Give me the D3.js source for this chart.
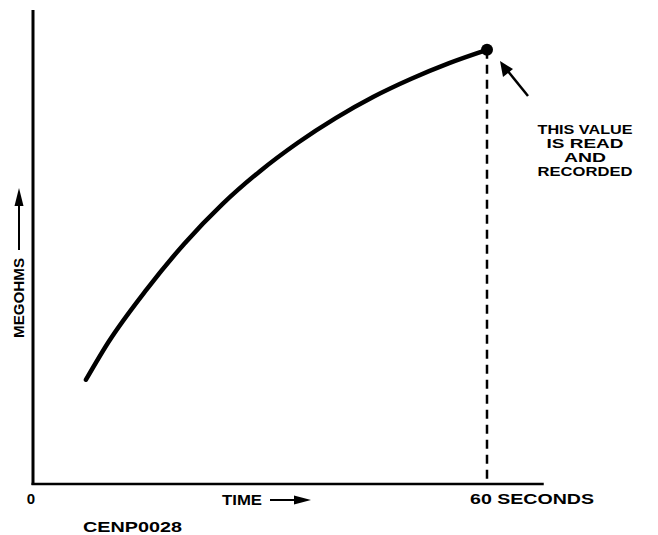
<!DOCTYPE html>
<html>
<head>
<meta charset="utf-8">
<script src="https://cdn.jsdelivr.net/npm/d3@7"></script>
<style>
  html, body { margin: 0; padding: 0; background: #fff; }
  svg { display: block; }
  text { font-family: "Liberation Sans", Arial, sans-serif; font-weight: bold; fill: #000; }
</style>
</head>
<body>
<svg id="chart" width="658" height="535"></svg>
<script>
// Insulation resistance reading over a 60-second test
const timeSeconds = [7, 10, 15, 20, 25, 30, 35, 40, 45, 50, 55, 60];
const megohms     = [22, 30, 41, 50.7, 59, 66, 72, 77.2, 81.7, 85.5, 88.8, 91.6];

const xTickValues = [0, 60];
const xTickLabels = ["0", "60 SECONDS"];
const readingTime = 60;
const readingValue = 91.6;
const noteLines = ["THIS VALUE", "IS READ", "AND", "RECORDED"];

const svg = d3.select("#chart");

const x = d3.scaleLinear().domain([0, 60]).range([33, 487]);
const y = d3.scaleLinear().domain([0, 100]).range([484, 10]);

// axes drawn as plain lines; the time axis runs a little past 60 s
svg.append("line")
  .attr("x1", x(0)).attr("x2", x(0))
  .attr("y1", y(0) + 1).attr("y2", y(100))
  .attr("stroke", "#000").attr("stroke-width", 3);
svg.append("line")
  .attr("x1", x(0) - 1.5).attr("x2", x(67.5))
  .attr("y1", y(0)).attr("y2", y(0))
  .attr("stroke", "#000").attr("stroke-width", 2.5);

// tick labels
svg.append("text")
  .attr("x", x(xTickValues[0]) - 2).attr("y", 504)
  .attr("text-anchor", "middle")
  .attr("font-size", 15)
  .text(xTickLabels[0]);
svg.append("text")
  .attr("x", x(xTickValues[1]) - 17).attr("y", 504)
  .attr("font-size", 15)
  .attr("textLength", 124).attr("lengthAdjust", "spacingAndGlyphs")
  .text(xTickLabels[1]);

// axis titles with arrows
svg.append("text")
  .attr("x", 222).attr("y", 505)
  .attr("font-size", 14)
  .attr("textLength", 40).attr("lengthAdjust", "spacingAndGlyphs")
  .text("TIME");
svg.append("line")
  .attr("x1", 270).attr("x2", 296)
  .attr("y1", 500).attr("y2", 500)
  .attr("stroke", "#000").attr("stroke-width", 2);
svg.append("path")
  .attr("d", "M294,495.5 L311,500 L294,504.5 Z")
  .attr("fill", "#000");

svg.append("text")
  .attr("transform", "translate(24,338) rotate(-90)")
  .attr("font-size", 14)
  .attr("textLength", 80).attr("lengthAdjust", "spacingAndGlyphs")
  .text("MEGOHMS");
svg.append("line")
  .attr("x1", 19).attr("x2", 19)
  .attr("y1", 250).attr("y2", 203)
  .attr("stroke", "#000").attr("stroke-width", 2);
svg.append("path")
  .attr("d", "M14.5,206 L19,188 L23.5,206 Z")
  .attr("fill", "#000");

// figure id
svg.append("text")
  .attr("x", 83).attr("y", 532)
  .attr("font-size", 14)
  .attr("textLength", 99).attr("lengthAdjust", "spacingAndGlyphs")
  .text("CENP0028");

// resistance curve
const pts = timeSeconds.map((t, i) => [t, megohms[i]]);
const line = d3.line()
  .x(d => x(d[0]))
  .y(d => y(d[1]))
  .curve(d3.curveMonotoneX);
svg.append("path")
  .datum(pts)
  .attr("d", line)
  .attr("fill", "none")
  .attr("stroke", "#000")
  .attr("stroke-width", 4.5)
  .attr("stroke-linecap", "round");

// reading at 60 s: dashed drop line and marker
svg.append("line")
  .attr("x1", x(readingTime)).attr("x2", x(readingTime))
  .attr("y1", y(readingValue)).attr("y2", y(0))
  .attr("stroke", "#000").attr("stroke-width", 2.5)
  .attr("stroke-dasharray", "9,6");
svg.append("circle")
  .attr("cx", x(readingTime)).attr("cy", y(readingValue))
  .attr("r", 6).attr("fill", "#000");

// callout arrow and note
svg.append("line")
  .attr("x1", 528).attr("y1", 96)
  .attr("x2", 507).attr("y2", 70)
  .attr("stroke", "#000").attr("stroke-width", 2.5);
svg.append("path")
  .attr("d", "M500,61 L513,69 L503,77 Z")
  .attr("fill", "#000");

const noteX = 585;
const noteWidths = [95, 77, 42, 95];
svg.selectAll("text.note")
  .data(noteLines)
  .join("text")
  .attr("class", "note")
  .attr("x", noteX)
  .attr("y", (d, i) => 134 + i * 14)
  .attr("text-anchor", "middle")
  .attr("font-size", 12)
  .attr("textLength", (d, i) => noteWidths[i])
  .attr("lengthAdjust", "spacingAndGlyphs")
  .text(d => d);
</script>
</body>
</html>
